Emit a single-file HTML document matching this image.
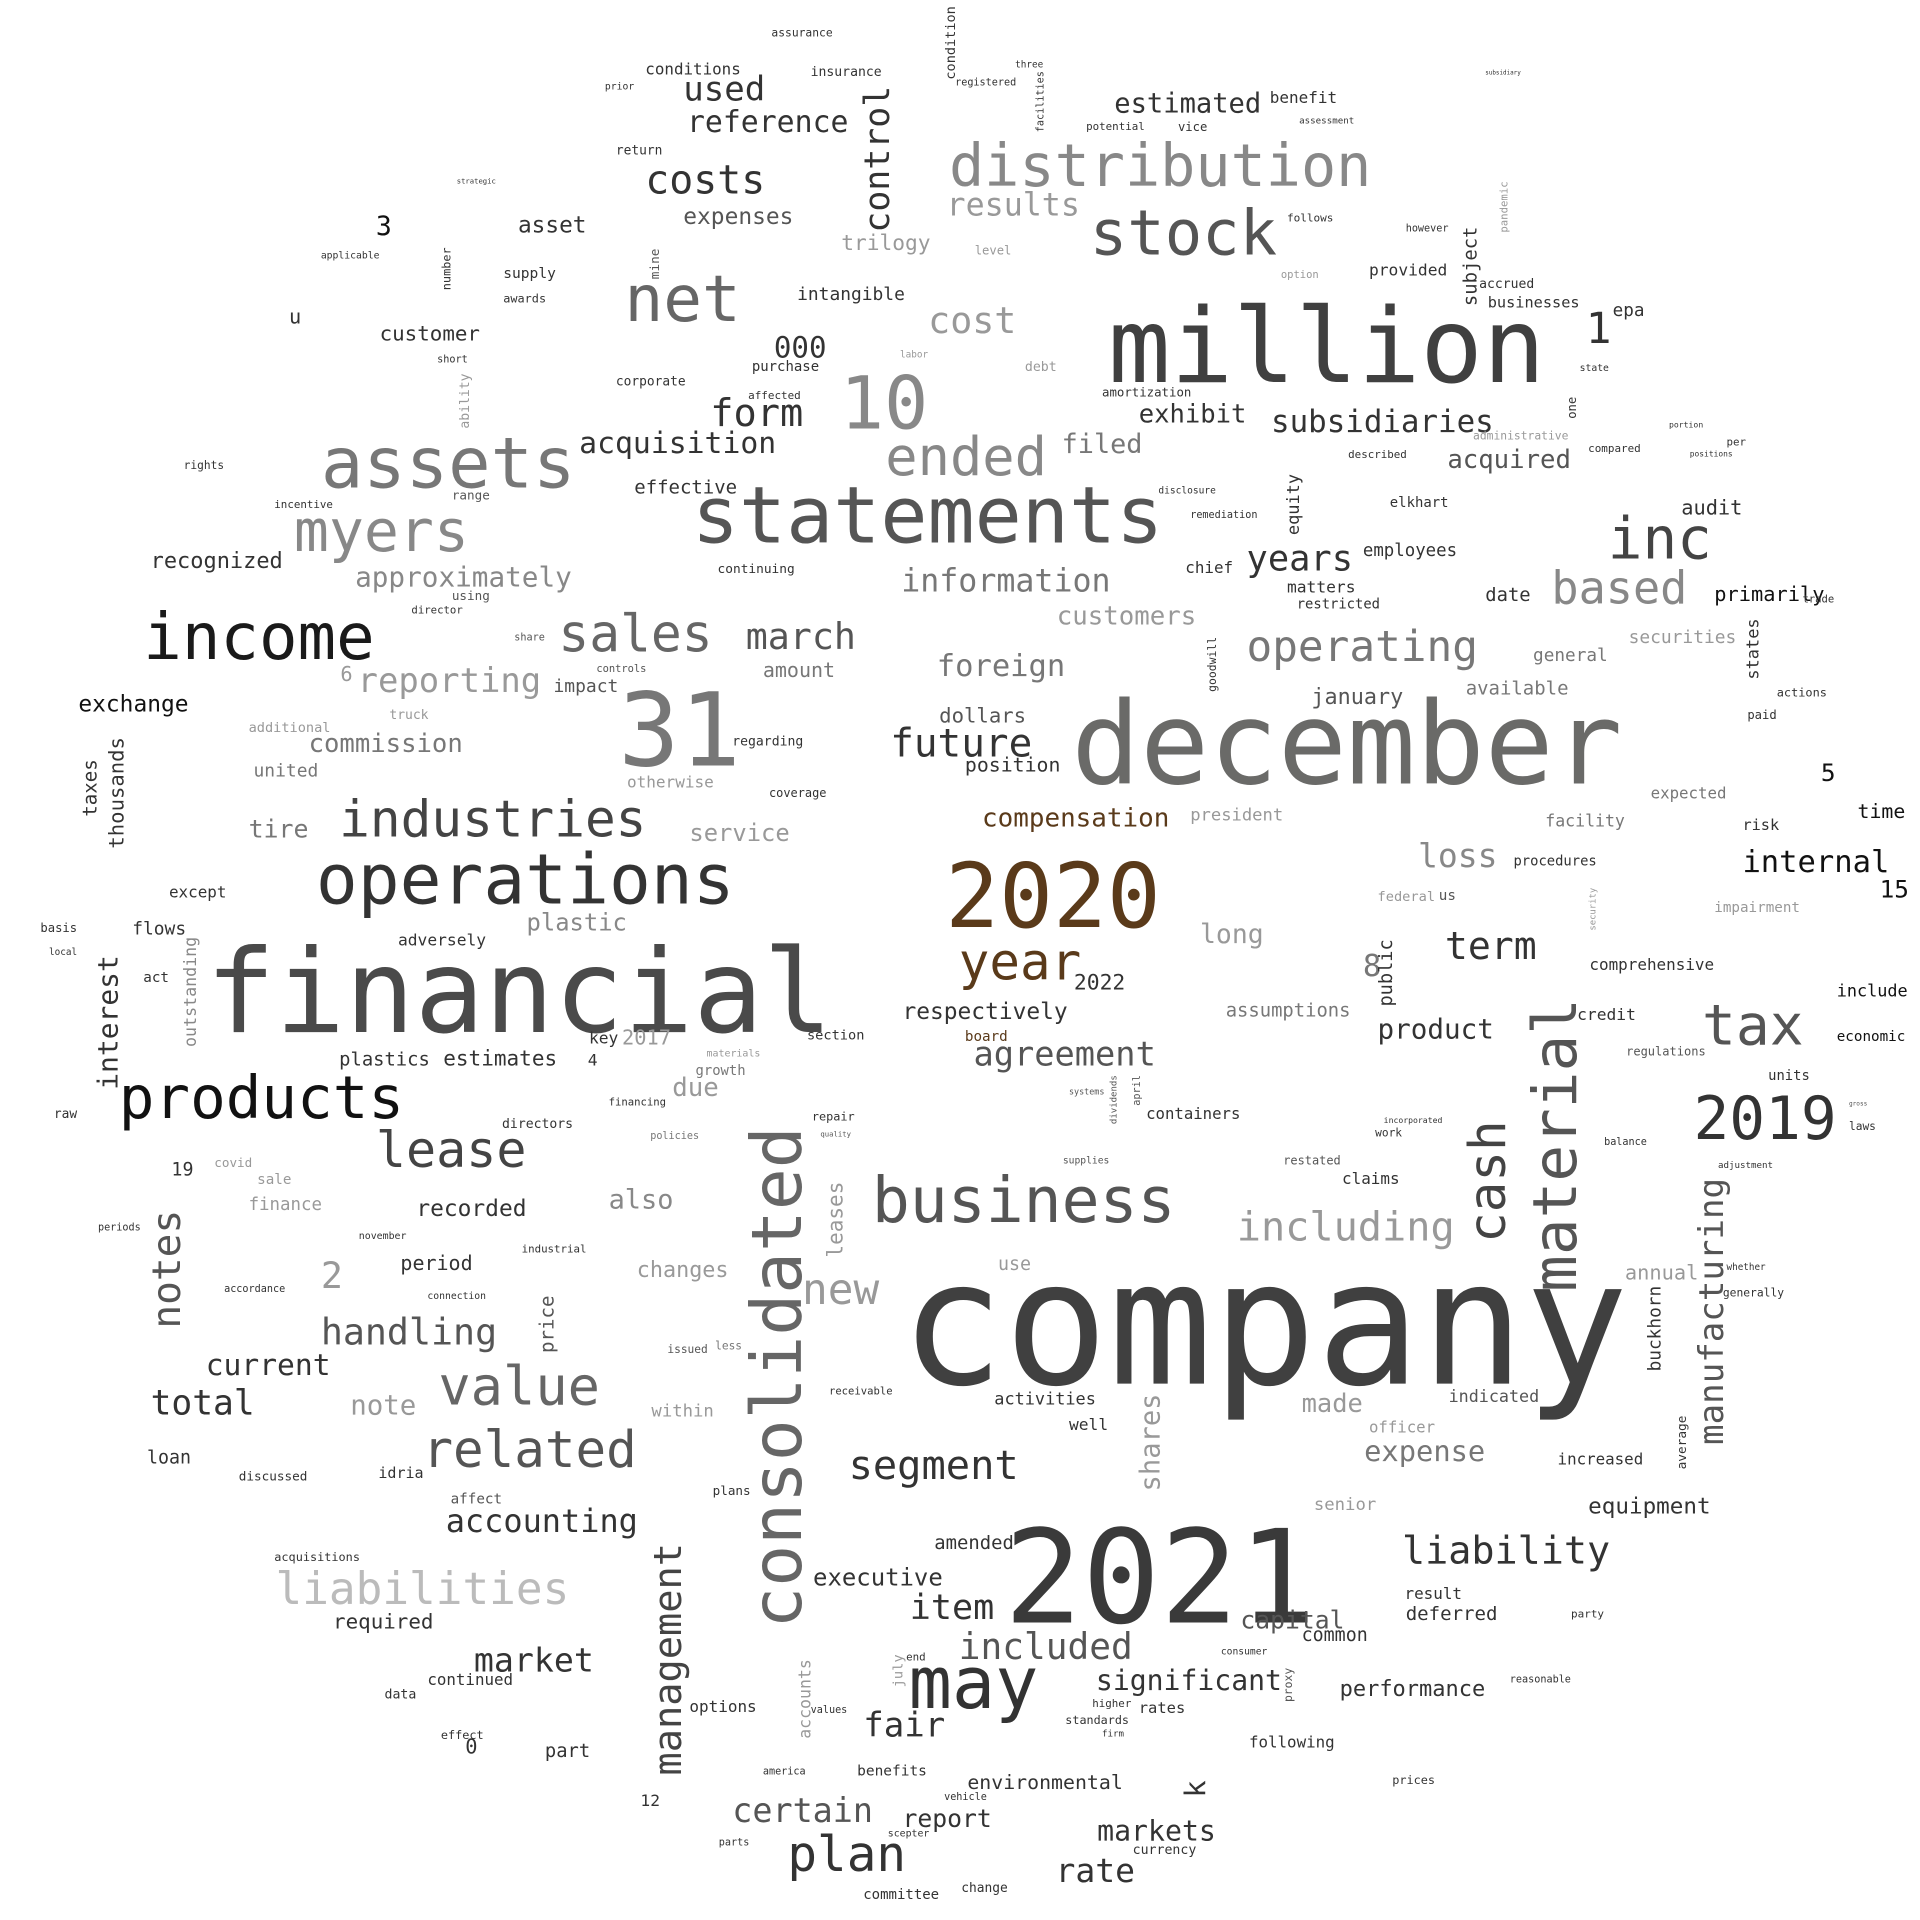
<!DOCTYPE html>
<html><head><meta charset="utf-8"><title>Word cloud</title>
<style>
html,body{margin:0;padding:0;background:#fff;}
svg{display:block;}
text{font-family:"DejaVu Sans Mono","Liberation Mono",monospace;}
</style></head>
<body>
<svg id="cloud" xmlns="http://www.w3.org/2000/svg" width="1920" height="1920" viewBox="0 0 1568 1568">
<rect width="1568" height="1568" fill="#fff"/>
<g id="words"></g>
</svg>
<script>
// Word cloud: [text, x, baseline, width, color, rotated]
const words = [
["company",735,1130,595,"#404040",0],
["financial",168,843,512,"#4a4a4a",0],
["december",875,640,450,"#6a6a68",0],
["million",905,312,357,"#404040",0],
["statements",565,443,385,"#555",0],
["2021",820,1325,255,"#3a3a3a",0],
["2020",772,757,176,"#5a3a1a",0],
["31",505,625,100,"#777",0],
["10",686,350,72,"#888",0],
["assets",262,398,208,"#777",0],
["income",117,538,189,"#1a1a1a",0],
["operations",258,738,342,"#333",0],
["products",97,913,233,"#111",0],
["industries",277,683,251,"#444",0],
["consolidated",654,1330,410,"#666",1],
["business",712,998,248,"#555",0],
["distribution",775,152,345,"#888",0],
["stock",890,208,153,"#555",0],
["net",510,262,95,"#666",0],
["inc",1313,456,85,"#444",0],
["may",742,1395,106,"#333",0],
["myers",240,450,143,"#888",0],
["sales",456,532,126,"#666",0],
["value",358,1147,132,"#666",0],
["related",345,1198,175,"#555",0],
["lease",307,953,123,"#444",0],
["tax",1390,853,83,"#555",0],
["2019",1383,930,117,"#333",0],
["material",1287,1055,240,"#555",1],
["cash",1229,1015,100,"#444",1],
["manufacturing",1407,1180,218,"#555",1],
["management",1556-1000,1450,190,"#444",1],
["plan",643,1528,97,"#333",0],
["year",783,800,100,"#5a3a1a",0],
["ended",723,388,132,"#888",0],
["operating",1018,540,189,"#777",0],
["based",1267,493,111,"#888",0],
["including",1010,1013,178,"#999",0],
["liabilities",225,1310,240,"#bbb",0],
["segment",693,1208,139,"#333",0],
["included",783,1355,142,"#555",0],
["liability",1145,1277,170,"#333",0],
["subsidiaries",1038,353,182,"#333",0],
["form",580,348,76,"#333",0],
["costs",527,158,98,"#333",0],
["used",558,82,67,"#333",0],
["reference",561,108,132,"#333",0],
["control",726,190,120,"#333",1],
["results",773,176,109,"#999",0],
["cost",758,272,72,"#999",0],
["acquisition",473,370,161,"#333",0],
["information",736,483,171,"#777",0],
["approximately",290,479,177,"#888",0],
["reporting",292,565,150,"#999",0],
["march",609,530,90,"#555",0],
["foreign",765,552,105,"#777",0],
["future",727,618,116,"#333",0],
["customers",863,510,114,"#999",0],
["years",1018,466,87,"#333",0],
["agreement",795,870,149,"#555",0],
["respectively",737,832,135,"#333",0],
["compensation",802,675,153,"#5a3a1a",0],
["loss",1158,708,65,"#888",0],
["internal",1423,712,120,"#111",0],
["term",1180,783,75,"#333",0],
["product",1125,848,95,"#333",0],
["handling",262,1098,144,"#555",0],
["total",123,1155,85,"#333",0],
["current",168,1123,102,"#333",0],
["accounting",364,1251,157,"#333",0],
["market",387,1365,98,"#333",0],
["new",655,1065,63,"#999",0],
["also",497,987,53,"#888",0],
["notes",147,1085,97,"#555",1],
["interest",96,890,110,"#333",1],
["fair",705,1418,67,"#333",0],
["item",743,1322,69,"#333",0],
["significant",895,1380,152,"#333",0],
["executive",664,1295,106,"#333",0],
["certain",598,1488,115,"#555",0],
["report",737,1492,73,"#333",0],
["markets",896,1503,97,"#333",0],
["rate",862,1537,65,"#333",0],
["expense",1114,1193,99,"#777",0],
["performance",1094,1385,119,"#333",0],
["capital",1013,1330,85,"#555",0],
["deferred",1148,1323,75,"#333",0],
["common",1063,1340,54,"#333",0],
["equipment",1297,1236,100,"#333",0],
["exhibit",930,345,88,"#333",0],
["filed",867,370,66,"#777",0],
["acquired",1182,382,101,"#555",0],
["estimated",910,92,120,"#333",0],
["expenses",558,183,90,"#555",0],
["trilogy",687,204,73,"#999",0],
["intangible",651,245,88,"#333",0],
["000",632,292,43,"#333",0],
["1",1295,280,21,"#333",0],
["3",307,192,13,"#111",0],
["exchange",64,581,90,"#111",0],
["recognized",123,464,108,"#333",0],
["customer",310,278,82,"#333",0],
["asset",423,190,56,"#333",0],
["effective",518,403,84,"#333",0],
["commission",252,614,126,"#777",0],
["tire",203,684,49,"#777",0],
["plastic",430,760,82,"#888",0],
["adversely",325,772,72,"#333",0],
["flows",108,763,44,"#333",0],
["plastics",277,870,74,"#333",0],
["estimates",362,870,93,"#333",0],
["recorded",340,993,90,"#333",0],
["period",327,1037,59,"#333",0],
["note",286,1155,54,"#999",0],
["2",262,1052,18,"#999",0],
["service",563,687,82,"#999",0],
["shares",947,1218,80,"#999",1],
["dollars",767,590,71,"#555",0],
["position",788,630,78,"#333",0],
["president",972,670,76,"#999",0],
["long",980,770,52,"#999",0],
["assumptions",1001,830,102,"#777",0],
["8",1113,797,15,"#777",0],
["15",1535,733,24,"#111",0],
["5",1487,638,12,"#111",0],
["time",1517,668,39,"#111",0],
["facility",1262,675,65,"#777",0],
["expected",1348,652,62,"#777",0],
["january",1071,575,75,"#555",0],
["available",1197,567,84,"#777",0],
["general",1252,540,61,"#777",0],
["securities",1330,525,88,"#999",0],
["employees",1113,454,77,"#333",0],
["audit",1373,420,50,"#333",0],
["date",1213,491,37,"#333",0],
["primarily",1400,491,90,"#111",0],
["chief",968,468,39,"#333",0],
["elkhart",1135,414,48,"#333",0],
["matters",1051,484,56,"#333",0],
["restricted",1059,497,68,"#333",0],
["provided",1118,225,64,"#333",0],
["accrued",1208,235,45,"#333",0],
["businesses",1215,251,75,"#333",0],
["epa",1317,258,26,"#333",0],
["benefit",1037,84,55,"#333",0],
["amortization",900,324,73,"#333",0],
["subject",1206,250,65,"#333",1],
["equity",1061,437,50,"#333",1],
["states",1436,555,50,"#333",1],
["thousands",101,693,91,"#333",1],
["taxes",79,667,47,"#333",1],
["outstanding",160,855,90,"#888",1],
["key",481,852,24,"#333",0],
["2017",508,853,40,"#999",0],
["due",549,895,38,"#999",0],
["4",480,870,8,"#333",0],
["19",140,960,18,"#333",0],
["0",380,1432,10,"#333",0],
["part",445,1435,37,"#333",0],
["12",523,1475,16,"#333",0],
["options",563,1398,55,"#333",0],
["benefits",700,1450,57,"#333",0],
["environmental",790,1461,127,"#333",0],
["following",1020,1427,70,"#333",0],
["2022",877,808,42,"#333",0],
["well",873,1168,32,"#333",0],
["activities",812,1147,83,"#333",0],
["made",1063,1153,50,"#999",0],
["indicated",1183,1145,74,"#555",0],
["officer",1118,1170,54,"#999",0],
["senior",1073,1233,51,"#999",0],
["increased",1272,1196,70,"#333",0],
["annual",1327,1045,60,"#999",0],
["buckhorn",1356,1120,70,"#333",1],
["average",1377,1200,44,"#333",1],
["amended",763,1265,65,"#333",0],
["k",984,1468,14,"#333",1],
["comprehensive",1298,792,102,"#333",0],
["credit",1288,833,48,"#333",0],
["include",1500,814,58,"#111",0],
["economic",1500,850,56,"#111",0],
["units",1444,882,34,"#333",0],
["regulations",1328,862,65,"#555",0],
["risk",1423,678,30,"#333",0],
["procedures",1236,707,68,"#333",0],
["impairment",1400,745,70,"#999",0],
["containers",936,914,77,"#333",0],
["claims",1096,967,47,"#333",0],
["use",815,1037,27,"#999",0],
["changes",520,1043,75,"#999",0],
["price",452,1105,47,"#555",1],
["leases",688,1027,62,"#999",1],
["within",532,1157,51,"#999",0],
["affect",368,1228,42,"#555",0],
["required",272,1330,82,"#333",0],
["continued",349,1376,70,"#333",0],
["data",314,1387,26,"#333",0],
["effect",360,1420,35,"#333",0],
["loan",120,1195,36,"#333",0],
["discussed",195,1209,56,"#333",0],
["acquisitions",224,1275,70,"#333",0],
["idria",309,1207,37,"#333",0],
["u",236,264,10,"#333",0],
["6",278,556,10,"#999",0],
["impact",452,565,53,"#555",0],
["amount",623,553,59,"#777",0],
["united",207,634,53,"#777",0],
["additional",203,598,67,"#999",0],
["truck",318,587,32,"#999",0],
["otherwise",512,643,71,"#999",0],
["regarding",598,609,58,"#333",0],
["coverage",628,651,47,"#333",0],
["except",138,733,47,"#333",0],
["basis",33,761,30,"#333",0],
["local",40,780,23,"#333",0],
["act",117,802,21,"#333",0],
["raw",44,913,19,"#333",0],
["covid",175,953,31,"#999",0],
["sale",210,967,28,"#999",0],
["finance",203,988,60,"#999",0],
["periods",80,1005,35,"#333",0],
["november",293,1012,39,"#333",0],
["industrial",426,1023,53,"#333",0],
["connection",349,1061,48,"#333",0],
["accordance",183,1055,50,"#333",0],
["directors",410,921,58,"#333",0],
["section",659,849,47,"#333",0],
["financing",497,903,47,"#333",0],
["repair",663,915,35,"#333",0],
["policies",531,930,40,"#777",0],
["growth",568,878,41,"#777",0],
["materials",577,863,44,"#999",0],
["receivable",677,1139,52,"#333",0],
["plans",582,1221,31,"#333",0],
["issued",545,1105,33,"#555",0],
["less",584,1102,22,"#777",0],
["conditions",527,61,78,"#333",0],
["insurance",662,62,58,"#333",0],
["assurance",630,30,50,"#333",0],
["prior",494,73,24,"#333",0],
["return",503,126,38,"#333",0],
["strategic",373,150,32,"#333",0],
["applicable",262,211,48,"#333",0],
["supply",411,227,43,"#333",0],
["awards",411,247,35,"#333",0],
["short",357,296,25,"#333",0],
["corporate",503,315,57,"#333",0],
["purchase",614,303,55,"#333",0],
["affected",611,326,43,"#333",0],
["rights",150,383,33,"#333",0],
["range",369,408,31,"#555",0],
["incentive",224,415,48,"#333",0],
["using",369,490,31,"#555",0],
["director",336,501,42,"#333",0],
["continuing",586,468,63,"#333",0],
["share",420,523,25,"#555",0],
["controls",487,549,41,"#555",0],
["level",796,208,30,"#999",0],
["debt",837,303,26,"#999",0],
["labor",735,292,23,"#999",0],
["option",1046,227,31,"#999",0],
["follows",1051,181,38,"#333",0],
["however",1148,189,35,"#333",0],
["vice",962,107,24,"#333",0],
["potential",887,106,48,"#333",0],
["registered",780,70,50,"#333",0],
["three",829,55,23,"#333",0],
["disclosure",946,403,47,"#333",0],
["remediation",972,423,55,"#333",0],
["ability",383,350,45,"#999",1],
["number",368,237,35,"#333",1],
["mine",538,228,25,"#555",1],
["pandemic",1231,190,42,"#999",1],
["condition",780,65,60,"#333",1],
["facilities",852,108,50,"#333",1],
["goodwill",993,565,45,"#333",1],
["public",1137,822,55,"#333",1],
["security",1303,760,35,"#999",1],
["proxy",1055,1390,28,"#555",1],
["accounts",662,1420,65,"#999",1],
["july",737,1378,27,"#999",1],
["dividends",912,918,40,"#555",1],
["april",931,903,25,"#555",1],
["board",788,850,35,"#5a3a1a",0],
["supplies",868,950,38,"#555",0],
["systems",873,894,29,"#555",0],
["quality",670,928,25,"#555",0],
["federal",1125,736,47,"#999",0],
["us",1175,735,14,"#555",0],
["work",1123,928,22,"#333",0],
["incorporated",1130,917,48,"#333",0],
["restated",1048,951,47,"#555",0],
["balance",1310,935,35,"#333",0],
["laws",1510,923,22,"#333",0],
["gross",1510,903,15,"#555",0],
["adjustment",1403,954,45,"#333",0],
["whether",1410,1037,32,"#333",0],
["generally",1407,1059,50,"#333",0],
["actions",1451,569,41,"#333",0],
["paid",1427,587,24,"#333",0],
["trade",1472,492,26,"#333",0],
["per",1410,364,16,"#333",0],
["positions",1380,373,35,"#333",0],
["portion",1363,349,28,"#333",0],
["compared",1297,369,43,"#333",0],
["described",1101,374,48,"#333",0],
["administrative",1203,359,78,"#999",0],
["state",1290,303,24,"#333",0],
["assessment",1061,101,45,"#333",0],
["subsidiary",1213,61,29,"#333",0],
["insurance2",0,0,0,"#fff",0],
["one",1287,342,18,"#333",1],
["result",1147,1306,47,"#333",0],
["party",1283,1321,27,"#333",0],
["reasonable",1233,1374,50,"#333",0],
["prices",1137,1457,35,"#333",0],
["committee",705,1551,62,"#333",0],
["change",785,1545,38,"#333",0],
["currency",925,1514,52,"#333",0],
["parts",587,1507,25,"#333",0],
["vehicle",771,1470,35,"#333",0],
["scepter",725,1500,34,"#333",0],
["america",623,1449,35,"#333",0],
["higher",892,1394,32,"#333",0],
["rates",930,1399,38,"#333",0],
["standards",870,1408,52,"#333",0],
["firm",900,1418,18,"#333",0],
["end",740,1356,16,"#333",0],
["consumer",997,1351,38,"#333",0],
["values",662,1399,30,"#333",0],
["plastic2",0,0,0,"#fff",0]
].filter(w => w[3] > 0);

const g = document.getElementById('words');
const NS = 'http://www.w3.org/2000/svg';
words.forEach(function(w){
  const t = document.createElementNS(NS, 'text');
  const size = w[3] / (w[0].length * 0.602);
  t.setAttribute('x', w[1]);
  t.setAttribute('y', w[2]);
  t.setAttribute('font-size', size.toFixed(2));
  t.setAttribute('fill', w[4]);
  if (w[5]) t.setAttribute('transform', 'rotate(-90 ' + w[1] + ' ' + w[2] + ')');
  t.textContent = w[0];
  
  
  g.appendChild(t);
});
</script>
</body></html>
